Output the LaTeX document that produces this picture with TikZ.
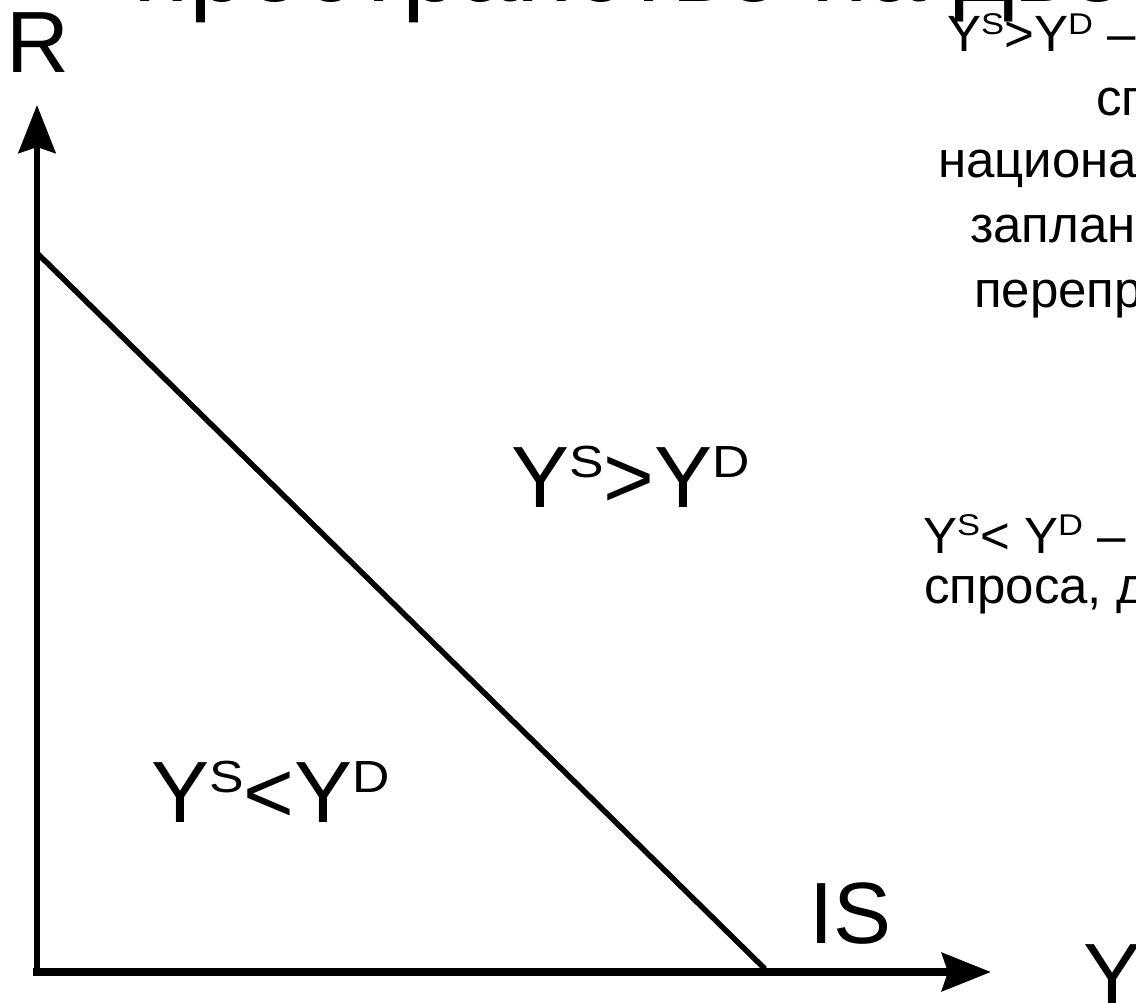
\documentclass[tikz,border=0pt]{standalone}
\usepackage{fontspec}
\setmainfont{Liberation Sans}
\usetikzlibrary{arrows.meta}
\newcommand\mysup[3]{\raisebox{#2}{\scalebox{1.15}[1]{\fontsize{#1}{#1}\selectfont #3}}}
\begin{document}
\begin{tikzpicture}[x=1pt,y=-1pt,
  axis/.style={draw=black},
  big/.style={font=\fontsize{87}{87}\selectfont, inner sep=0, anchor=base west},
  side/.style={font=\fontsize{51}{51}\selectfont, inner sep=0, anchor=base west},
  title/.style={font=\fontsize{103}{103}\selectfont, inner sep=0, anchor=base west}]
\useasboundingbox (0,0) rectangle (1136,1003);
% title, mostly above the page
\node[title] (ttl) at (133,2) {пространство на две};
% axes
\coordinate (O) at (37,972);
\coordinate (Rtip) at (37,105);
\coordinate (Xtip) at (991,972);
\coordinate (Xstart) at (33,972);
\draw[axis, line width=6.5pt, -{Stealth[length=48pt, width=37pt, inset=6pt]}] (O) -- (Rtip);
\draw[axis, line width=8pt, -{Stealth[length=49pt, width=38pt, inset=6pt]}] (Xstart) -- (Xtip);
% IS curve
\coordinate (isTop) at (37,253);
\coordinate (isBot) at (765,969);
\draw[line width=5.5pt] (isTop) -- (isBot);
% axis labels
\node[big] (R) at (6,73) {R};
\node[big] (IS) at (809,943) {IS};
\node[big] (Y) at (1083,1004) {Y};
% regions
\node[big] (above) at (511,507) {Y\mysup{45pt}{30pt}{S}>Y\mysup{45pt}{30pt}{D}};
\node[big] (below) at (151,822) {Y\mysup{45pt}{30pt}{S}<Y\mysup{45pt}{30pt}{D}};
% right explanatory text (cut off)
\node[side] (t1) at (947,52) {Y\mysup{30pt}{17.5pt}{S}>Y\mysup{30pt}{17.5pt}{D} –};
\node[side] (t2) at (1096,116) {сп};
\node[side] (t3) at (938,178) {национа};
\node[side] (t4) at (970,243) {заплан};
\node[side] (t5) at (974,308) {перепр};
\node[side] (t6) at (923,553) {Y\mysup{30pt}{17.5pt}{S}< Y\mysup{30pt}{17.5pt}{D} –};
\node[side] (t7) at (924,603) {спроса, д};
\end{tikzpicture}
\end{document}
